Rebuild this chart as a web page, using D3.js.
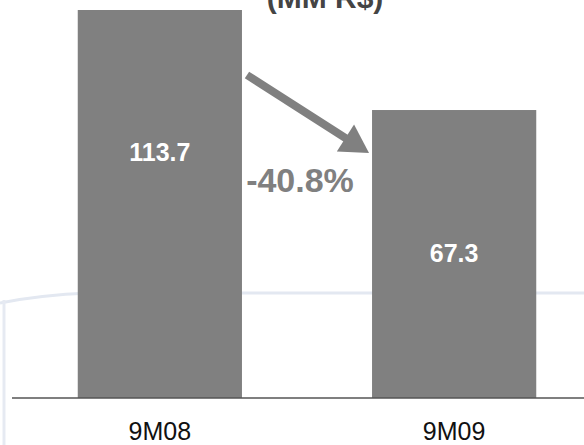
<!DOCTYPE html>
<html>
<head>
<meta charset="utf-8">
<script src="https://cdn.jsdelivr.net/npm/d3@7"></script>
<style>
  body { margin: 0; background: #fff; }
  svg { display: block; font-family: "Liberation Sans", Arial, sans-serif; }
</style>
</head>
<body>
<svg id="chart" width="584" height="445"></svg>
<script>
var categories = ["9M08", "9M09"];
var values = [113.7, 67.3];
var changeLabel = "-40.8%";
var title = "(MM R$)";

var width = 584,
  height = 445,
  baseline = 398;

var svg = d3.select("#chart");

// faint background swoosh
svg.append("path")
  .attr("d", "M0,303 Q40,295 90,293 L584,293")
  .attr("fill", "none")
  .attr("stroke", "#e3e8f1")
  .attr("stroke-width", 3);
svg.append("path")
  .attr("d", "M4,300 L4,445")
  .attr("fill", "none")
  .attr("stroke", "#e6eaf2")
  .attr("stroke-width", 3);

var x = d3.scaleBand()
  .domain(categories)
  .range([13, 601])
  .paddingInner(0.442)
  .paddingOuter(0.22);

// the original bars are not drawn from zero
var y = d3.scaleLinear()
  .domain([-66.3, 113.7])
  .range([baseline, 10]);

svg.append("text")
  .attr("x", 325)
  .attr("y", 8)
  .attr("text-anchor", "middle")
  .attr("font-size", 30)
  .attr("font-weight", "bold")
  .attr("fill", "#444")
  .text(title);

svg.selectAll("rect.bar")
  .data(values)
  .enter()
  .append("rect")
  .attr("class", "bar")
  .attr("x", function(d, i) { return x(categories[i]); })
  .attr("y", function(d) { return y(d); })
  .attr("width", x.bandwidth())
  .attr("height", function(d) { return baseline - y(d); })
  .attr("fill", "#808080");

// value labels, placed around the middle of each bar
svg.selectAll("text.value")
  .data(values)
  .enter()
  .append("text")
  .attr("class", "value")
  .attr("x", function(d, i) { return x(categories[i]) + x.bandwidth() / 2; })
  .attr("y", function(d, i) { return i == 0 ? y(d) + 151 : y(d) + 152; })
  .attr("text-anchor", "middle")
  .attr("font-size", 25)
  .attr("font-weight", "bold")
  .attr("fill", "#fff")
  .text(function(d) { return d.toFixed(1); });

svg.append("line")
  .attr("x1", 12)
  .attr("x2", width)
  .attr("y1", baseline)
  .attr("y2", baseline)
  .attr("stroke", "#555")
  .attr("stroke-width", 1.5);

svg.selectAll("text.cat")
  .data(categories)
  .enter()
  .append("text")
  .attr("class", "cat")
  .attr("x", function(d) { return x(d) + x.bandwidth() / 2; })
  .attr("y", 440)
  .attr("text-anchor", "middle")
  .attr("font-size", 25)
  .attr("fill", "#111")
  .text(function(d) { return d; });

// arrow between the bars
var ax1 = x(categories[0]) + x.bandwidth() + 5,
  ay1 = y(values[0]) + 65,
  ax2 = x(categories[1]) - 3,
  ay2 = y(values[1]) + 43;
var ang = Math.atan2(ay2 - ay1, ax2 - ax1);
var headLen = 28, headW = 16;
var bx = ax2 - headLen * Math.cos(ang),
  by = ay2 - headLen * Math.sin(ang);

svg.append("line")
  .attr("x1", ax1)
  .attr("y1", ay1)
  .attr("x2", bx + 2 * Math.cos(ang))
  .attr("y2", by + 2 * Math.sin(ang))
  .attr("stroke", "#808080")
  .attr("stroke-width", 8);

svg.append("polygon")
  .attr("points", [
    [ax2, ay2],
    [bx - headW * Math.sin(ang), by + headW * Math.cos(ang)],
    [bx + headW * Math.sin(ang), by - headW * Math.cos(ang)]
  ].map(function(p) { return p.join(","); }).join(" "))
  .attr("fill", "#808080");

svg.append("text")
  .attr("x", 300)
  .attr("y", 192)
  .attr("text-anchor", "middle")
  .attr("font-size", 34)
  .attr("font-weight", "bold")
  .attr("fill", "#808080")
  .text(changeLabel);
</script>
</body>
</html>
